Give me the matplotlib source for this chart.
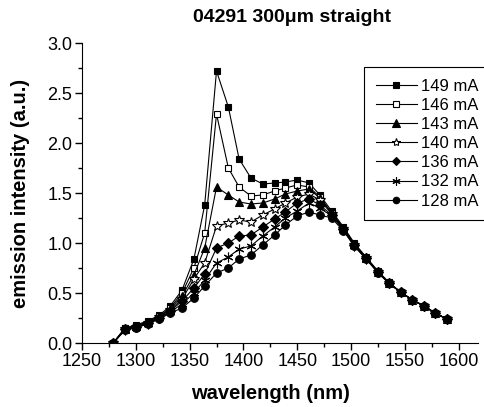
import matplotlib
matplotlib.use("Agg")
import matplotlib.pyplot as plt
from matplotlib.ticker import MultipleLocator, FormatStrFormatter

plt.rcParams['font.family'] = ['Liberation Sans', 'DejaVu Sans']

# wavelength grid (nm)
wavelength = [1279, 1290, 1300, 1311, 1322, 1332, 1343, 1354, 1364, 1375,
              1386, 1396, 1407, 1418, 1429, 1439, 1450, 1461, 1471, 1482,
              1493, 1503, 1514, 1525, 1535, 1546, 1557, 1568, 1578, 1589]

labels = ["149 mA", "146 mA", "143 mA", "140 mA", "136 mA", "132 mA", "128 mA"]

i149 = [0.00, 0.15, 0.18, 0.22, 0.28, 0.37, 0.53, 0.84, 1.38, 2.72,
        2.36, 1.84, 1.65, 1.59, 1.60, 1.61, 1.63, 1.60, 1.48, 1.32,
        1.16, 1.00, 0.86, 0.72, 0.61, 0.51, 0.43, 0.37, 0.30, 0.24]
i146 = [0.00, 0.15, 0.17, 0.21, 0.27, 0.35, 0.50, 0.75, 1.10, 2.29,
        1.75, 1.56, 1.47, 1.48, 1.52, 1.55, 1.58, 1.56, 1.46, 1.30,
        1.15, 0.99, 0.85, 0.71, 0.60, 0.51, 0.43, 0.37, 0.30, 0.24]
i143 = [0.00, 0.14, 0.17, 0.21, 0.27, 0.34, 0.47, 0.68, 0.95, 1.56,
        1.48, 1.41, 1.39, 1.40, 1.44, 1.49, 1.52, 1.54, 1.45, 1.30,
        1.15, 0.99, 0.85, 0.71, 0.60, 0.51, 0.43, 0.37, 0.30, 0.24]
i140 = [0.00, 0.14, 0.16, 0.20, 0.26, 0.33, 0.44, 0.64, 0.80, 1.17,
        1.20, 1.23, 1.21, 1.28, 1.34, 1.40, 1.46, 1.49, 1.43, 1.29,
        1.14, 0.98, 0.85, 0.71, 0.60, 0.51, 0.43, 0.37, 0.30, 0.24]
i136 = [0.00, 0.14, 0.16, 0.20, 0.25, 0.32, 0.42, 0.55, 0.69, 0.95,
        1.00, 1.07, 1.08, 1.16, 1.24, 1.31, 1.40, 1.44, 1.38, 1.28,
        1.14, 0.98, 0.85, 0.71, 0.60, 0.51, 0.43, 0.37, 0.30, 0.24]
i132 = [0.00, 0.13, 0.16, 0.19, 0.25, 0.31, 0.39, 0.50, 0.63, 0.80,
        0.86, 0.94, 0.97, 1.07, 1.16, 1.25, 1.32, 1.40, 1.35, 1.27,
        1.13, 0.97, 0.84, 0.71, 0.60, 0.51, 0.43, 0.37, 0.30, 0.24]
i128 = [0.00, 0.13, 0.15, 0.19, 0.24, 0.30, 0.35, 0.45, 0.57, 0.70,
        0.75, 0.84, 0.88, 0.98, 1.08, 1.18, 1.27, 1.31, 1.28, 1.25,
        1.12, 0.97, 0.84, 0.70, 0.60, 0.51, 0.43, 0.37, 0.30, 0.24]

series = [i149, i146, i143, i140, i136, i132, i128]
# marker, size, face colour
styles = [("s", 5, "black"),
          ("s", 5, "white"),
          ("^", 6, "black"),
          ("*", 7, "white"),
          ("D", 5, "black"),
          ((6, 2, 0), 7, "black"),
          ("o", 5.5, "black")]

fig = plt.figure(figsize=(4.85, 4.07), dpi=100)
ax = fig.add_axes([82 / 485, 1 - 343 / 407, 396 / 485, 300 / 407])

for vals, lab, (mk, ms, fc) in zip(series, labels, styles):
    ax.plot(wavelength, vals, color="black", lw=0.8, marker=mk, ms=ms,
            mfc=fc, mec="black", mew=0.8, label=lab)

ax.set_xlim(1250, 1618)
ax.set_ylim(0, 3.0)
ax.xaxis.set_major_locator(MultipleLocator(50))
ax.xaxis.set_minor_locator(MultipleLocator(25))
ax.yaxis.set_major_locator(MultipleLocator(0.5))
ax.yaxis.set_minor_locator(MultipleLocator(0.25))
ax.yaxis.set_major_formatter(FormatStrFormatter('%.1f'))
ax.spines['top'].set_visible(False)
ax.spines['right'].set_visible(False)
ax.tick_params(which='major', direction='out', length=5, width=1,
               labelsize=13, pad=2)
ax.tick_params(which='minor', direction='out', length=3, width=1)

ax.set_xlabel("wavelength (nm)", fontsize=14.5, fontweight='bold')
ax.xaxis.set_label_coords(0.475, -0.137)
ax.set_ylabel("emission intensity (a.u.)", fontsize=14.5, fontweight='bold')
ax.yaxis.set_label_coords(-0.131, 0.5)
fig.text(292 / 485, 1 - 17 / 407, "04291 300\u03bcm straight", ha='center',
         va='center', fontsize=14, fontweight='bold')

leg = ax.legend(loc='upper left', bbox_to_anchor=(364 / 485, 1 - 67 / 407),
                bbox_transform=fig.transFigure, borderaxespad=0,
                fontsize=12, handlelength=2.5, handletextpad=0.2,
                labelspacing=0.25, borderpad=0.7, markerscale=0.85,
                fancybox=False, edgecolor='black', framealpha=1)
leg.get_frame().set_linewidth(0.8)

fig.savefig("out.png", dpi=100)
